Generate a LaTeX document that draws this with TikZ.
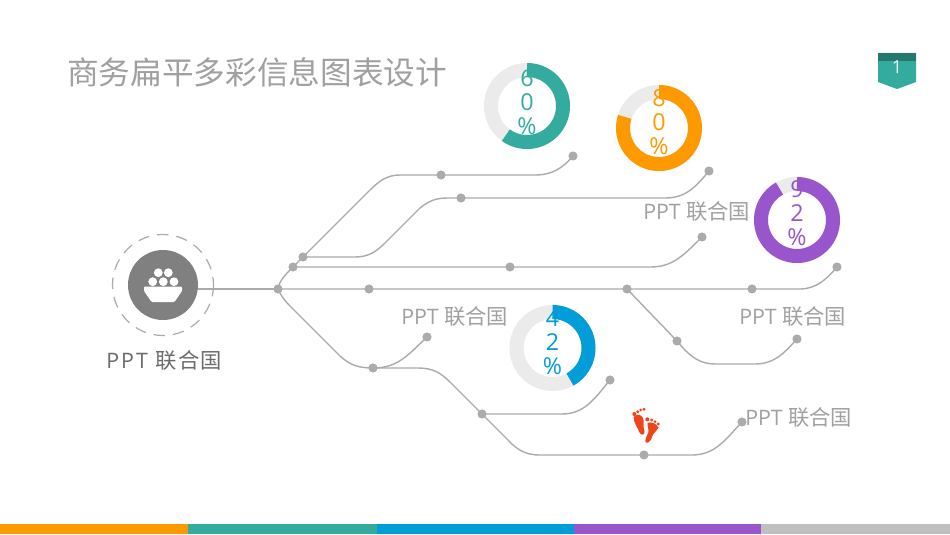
\documentclass[tikz,border=0pt]{standalone}
\usepackage{fontspec}
\setmainfont{Open Sans}
\newfontfamily\cjkf{Noto Sans CJK SC}
\definecolor{linegray}{HTML}{ABABAB}
\definecolor{labelgray}{HTML}{A0A0A0}
\definecolor{ringgray}{HTML}{EBEBEB}
\definecolor{cteal}{HTML}{33AB9F}
\definecolor{corange}{HTML}{FF9900}
\definecolor{cblue}{HTML}{009DD9}
\definecolor{cpurple}{HTML}{9955CC}
\definecolor{cgraybar}{HTML}{BFBFBF}
\definecolor{cfoot}{HTML}{F0451A}
\tikzset{
  dot/.style={circle,fill=linegray,inner sep=0pt,minimum size=6.6pt},
  conn/.style={draw=linegray,line width=1.05pt},
  plabel/.style={text=labelgray,font=\fontsize{16}{18}\selectfont,inner sep=0pt,anchor=west},
  pct/.style={align=center,inner sep=0pt,font=\fontsize{17.5}{18}\selectfont},
  bar/.style={fill=#1,draw=none},
}
\begin{document}
\begin{tikzpicture}[x=0.75pt,y=-0.75pt]
\useasboundingbox (0,0) rectangle (950,535);
\fill[white] (0,0) rectangle (950,535);
% title
\node[inner sep=0pt,anchor=west,text=labelgray,font=\cjkf\fontsize{23.75}{28}\selectfont] (title) at (67,72) {商务扁平多彩信息图表设计};
% ribbon
\fill[cteal] (878,53) -- (916,53) -- (916,82) -- (897,89) -- (878,82) -- cycle;
\fill[cteal!70!black] (878,53) rectangle (916,61);
\node[inner sep=0pt,text=white!90!cteal,font=\fontsize{13.5}{14}\selectfont] (pagenum) at (897,67) {1};
% bottom bar
\fill[bar=corange] (0,524) rectangle (188,534);
\fill[bar=cteal] (188,524) rectangle (377,534);
\fill[bar=cblue] (377,524) rectangle (574,534);
\fill[bar=cpurple] (574,524) rectangle (761,534);
\fill[bar=cgraybar] (761,524) rectangle (950,534);
% dots
\node[dot] (hub) at (278,289) {};
\node[dot] (a1) at (293,267) {};
\node[dot] (a2) at (303,257) {};
\node[dot] (b1) at (441,175) {};
\node[dot] (b2) at (573,156) {};
\node[dot] (c1) at (461,198) {};
\node[dot] (c2) at (709,171) {};
\node[dot] (d1) at (510,267) {};
\node[dot] (d2) at (702,237) {};
\node[dot] (e1) at (369,289) {};
\node[dot] (e2) at (627,289) {};
\node[dot] (e3) at (752,289) {};
\node[dot] (e4) at (837,267) {};
\node[dot] (f1) at (677,341) {};
\node[dot] (f2) at (797,339) {};
\node[dot] (g1) at (373,368) {};
\node[dot] (g2) at (427,337) {};
\node[dot] (h1) at (482,414) {};
\node[dot] (h2) at (610,380) {};
\node[dot] (i1) at (644,455) {};
\node[dot] (i2) at (742,422) {};
% icon
\draw[linegray,line width=0.9pt,dash pattern=on 8.5pt off 6pt] (163,285) circle[radius=50.5];
\node[circle,fill=black!50,minimum size=52.5pt,inner sep=0pt] (icon) at (163,285) {};
\fill[white,rounded corners=0.8pt] (144,286.5) -- (182,286.5) -- (182,291) -- (174.5,302) -- (151.5,302) -- (144,291) -- cycle;
\foreach \bx/\by in {158.3/272.7,168.3/272.7,152.7/281.7,163.3/281.7,174/281.7} \fill[white] (\bx,\by) circle[radius=4.4];
\node[inner sep=0pt,text=black!58,font=\fontsize{16}{18}\selectfont,anchor=west] (mainlabel) at (106,360) {\addfontfeatures{LetterSpace=10}PPT {\cjkf\addfontfeatures{LetterSpace=5}联合国}};
% connectors
\coordinate (iconout) at (198,289);
\draw[conn] (iconout) -- (hub.center);
\draw[conn] (hub.center) -- (e1.center) -- (e2.center) -- (e3.center) -- (800,289) .. controls (816,289) and (827,279) .. (e4.center);
\draw[conn] (hub.center) .. controls (279,281) and (286,274) .. (a1.center) -- (a2.center) -- (370,190) .. controls (380,180) and (388,175) .. (400,175) -- (b1.center) -- (535,175) .. controls (552,175) and (563,168) .. (b2.center);
\draw[conn] (a2.center) -- (355,257) .. controls (368,257) and (376,252) .. (385,243) -- (420,208) .. controls (430,200) and (437,198) .. (448,198) -- (c1.center) -- (665,198) .. controls (685,198) and (695,188) .. (c2.center);
\draw[conn] (a1.center) -- (d1.center) -- (650,267) .. controls (672,267) and (682,257) .. (d2.center);
\draw[conn] (hub.center) .. controls (281,296) and (285,301) .. (290,306) -- (340,356) .. controls (350,365) and (358,368) .. (g1.center) .. controls (398,368) and (408,355) .. (g2.center);
\draw[conn] (g1.center) -- (418,368) .. controls (433,368) and (441,373) .. (450,382) -- (h1.center) -- (508,440) .. controls (518,451) and (527,455) .. (540,455) -- (i1.center) -- (692,455) .. controls (715,455) and (725,440) .. (i2.center);
\draw[conn] (h1.center) -- (562,414) .. controls (585,414) and (595,398) .. (h2.center);
\draw[conn] (e2.center) -- (f1.center) .. controls (690,357) and (700,364) .. (715,364) -- (755,364) .. controls (775,364) and (785,352) .. (f2.center);
% dots above connectors
\foreach \n in {hub,a1,a2,b1,b2,c1,c2,d1,d2,e1,e2,e3,e4,f1,f2,g1,g2,h1,h2,i1,i2}
  \fill[linegray] (\n) circle[radius=4.4];
% donuts
\draw[ringgray,line width=10.5pt] (527,106) circle[radius=36];
\draw[cteal,line width=10.5pt,shift={(527,106)}] plot[domain=0:216,samples=90] ({36*sin(\x)},{-36*cos(\x)});
\node[pct,text=cteal] (p60) at (527,102) {6\\0\\\%};
\draw[ringgray,line width=10.5pt] (659,128) circle[radius=36];
\draw[corange,line width=10.5pt,shift={(659,128)}] plot[domain=0:288,samples=90] ({36*sin(\x)},{-36*cos(\x)});
\node[pct,text=corange] (p80) at (659,122) {8\\0\\\%};
\draw[ringgray,line width=10.5pt] (797,220) circle[radius=36];
\draw[cpurple,line width=10.5pt,shift={(797,220)}] plot[domain=0:331,samples=90] ({36*sin(\x)},{-36*cos(\x)});
\node[pct,text=cpurple] (p92) at (797,213) {9\\2\\\%};
\draw[ringgray,line width=10.5pt] (552.5,348) circle[radius=36];
\draw[cblue,line width=10.5pt,shift={(552.5,348)}] plot[domain=0:151,samples=90] ({36*sin(\x)},{-36*cos(\x)});
\node[pct,text=cblue] (p42) at (552.5,342) {4\\2\\\%};
% labels
\node[plabel] (l1) at (643,211) {PPT {\cjkf 联合国}};
\node[plabel] (l2) at (401,316) {PPT {\cjkf 联合国}};
\node[plabel] (l3) at (739,316) {PPT {\cjkf 联合国}};
\node[plabel] (l4) at (745,417) {PPT {\cjkf 联合国}};
% footprints
\begin{scope}[cfoot]
\fill (633.5,417) .. controls (637,412.5) and (643,415) .. (643.5,420) .. controls (643.8,424) and (643,427) .. (644.5,431) .. controls (645.5,435) and (641,436) .. (639.5,432.5) .. controls (638,428) and (634,424) .. (633.5,417) -- cycle;
\foreach \tx/\ty/\tr in {634.3/414/2,637.7/411.7/1.6,640.7/410/1.5,644/409.3/1.6} \fill (\tx,\ty) circle[radius=\tr];
\fill (647.5,423) .. controls (651,421.5) and (656,423) .. (658.5,427.5) .. controls (657,431) and (653,433) .. (652,437) .. controls (651,441) and (648,443.5) .. (646,442.5) .. controls (644,441) and (646.5,437) .. (648.5,432) .. controls (649.5,429) and (647,427) .. (647.5,423) -- cycle;
\foreach \tx/\ty/\tr in {647.3/419.3/2,651.7/420/1.6,655/421.7/1.5,658.3/424/1.6} \fill (\tx,\ty) circle[radius=\tr];
\end{scope}
\end{tikzpicture}
\end{document}
